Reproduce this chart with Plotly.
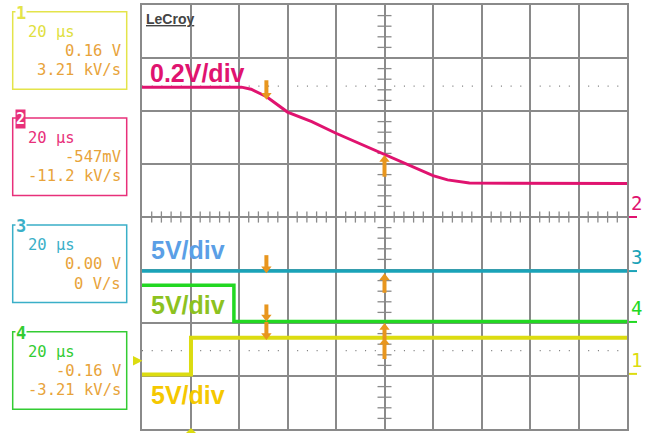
import plotly.graph_objects as go
import numpy as np

# ---------------- data ----------------
t_pink = [-100, -59, -55, -48.6, -40, -30, -20, -10, 0, 10, 20, 26, 35, 100]
v_pink = [2.45, 2.45, 2.41, 2.27, 1.98, 1.80, 1.58, 1.38, 1.17, 0.97, 0.78, 0.70, 0.64, 0.63]

t_cyan = [-100, 100]
v_cyan = [-1.02, -1.02]

t_green = [-100, -62.1, 100]
v_green = [-1.29, -1.97, -1.97]

t_yellow = [-100, -79.8, 100]
v_yellow = [-2.97, -2.28, -2.28]

channels = ["1", "2", "3", "4"]
box_time = ["20 μs", "20 μs", "20 μs", "20 μs"]
box_level = ["0.16 V", "-547mV", "0.00 V", "-0.16 V"]
box_slope = ["3.21 kV/s", "-11.2 kV/s", "0 V/s", "-3.21 kV/s"]
ground_levels = [-2.96, 0.0, -1.02, -1.98]  # ch1..ch4 markers on right

scale_labels = ["0.2V/div", "5V/div", "5V/div", "5V/div"]

# cursor arrows: (time, tail level, tip level)
cursor_t = [-48.7, 0, -48.7, 0, -48.7, -48.7, 0, 0]
cursor_tail = [2.58, 0.76, -0.72, -1.43, -1.65, -1.98, -2.32, -2.68]
cursor_tip = [2.21, 1.17, -1.06, -1.06, -1.97, -2.32, -2.0, -2.28]

# ---------------- styling ----------------
W, H = 649, 433
L, R, T, B = 142, 22, 5, 4
PW, PH = W - L - R, H - T - B

def pxx(px):
    return (px - L) / PW

def pxy(py):
    return (H - B - py) / PH

c_pink = "#E0136F"
c_cyan = "#1AA3B8"
c_green = "#22D822"
c_yellow = "#DCDC10"
c_orange = "#E8961E"
c_val = "#E8A33A"
ch_colors = ["#E4E44A", "#E8307A", "#3AAFC8", "#33CC33"]
ch_txt = ["#E0E040", "#E8307A", "#3AAFC8", "#33CC33"]
grid_c = "#8a8a8a"

fig = go.Figure()

# center-axis minor ticks
tx = [x for x in np.arange(-100, 100.1, 4) if abs(x % 20) > 1e-6 and abs(x % 20 - 20) > 1e-6]
ty = [y for y in np.arange(-4, 4.01, 0.2) if abs(y - round(y)) > 1e-6]
fig.add_trace(go.Scatter(x=tx, y=[0] * len(tx), mode="markers",
                         marker=dict(symbol="line-ns", size=8, line=dict(color=grid_c, width=1.3)),
                         hoverinfo="skip", showlegend=False))
fig.add_trace(go.Scatter(x=[0] * len(ty), y=ty, mode="markers",
                         marker=dict(symbol="line-ew", size=10, line=dict(color=grid_c, width=1.3)),
                         hoverinfo="skip", showlegend=False))

# traces
fig.add_trace(go.Scatter(x=t_pink, y=v_pink, mode="lines", line=dict(color=c_pink, width=3), showlegend=False))
fig.add_trace(go.Scatter(x=t_cyan, y=v_cyan, mode="lines", line=dict(color=c_cyan, width=3.5), showlegend=False))
fig.add_trace(go.Scatter(x=t_green, y=v_green, mode="lines", line=dict(color=c_green, width=3.5, shape="hv"), showlegend=False))
fig.add_trace(go.Scatter(x=t_yellow, y=v_yellow, mode="lines", line=dict(color=c_yellow, width=4, shape="hv"), showlegend=False))

# cursor arrows: shafts + heads
sx, sy = [], []
for t0, a, b in zip(cursor_t, cursor_tail, cursor_tip):
    shorten = 0.08 if b < a else -0.08
    sx += [t0, t0, None]
    sy += [a, b + shorten, None]
fig.add_trace(go.Scatter(x=sx, y=sy, mode="lines", line=dict(color=c_orange, width=4),
                         hoverinfo="skip", showlegend=False))
head_sym = ["triangle-down" if b < a else "triangle-up" for a, b in zip(cursor_tail, cursor_tip)]
head_y = [b + (0.085 if b < a else -0.085) for a, b in zip(cursor_tail, cursor_tip)]
fig.add_trace(go.Scatter(x=cursor_t, y=head_y, mode="markers",
                         marker=dict(symbol=head_sym, size=9, color=c_orange, line=dict(width=0)),
                         hoverinfo="skip", showlegend=False))

shapes = []
# dotted reference lines
for yv in [2.47, -2.52]:
    shapes.append(dict(type="line", xref="x", yref="y", x0=-100, x1=100, y0=yv, y1=yv,
                       line=dict(color="#777777", width=1.3, dash="1px,8.7px"), layer="below"))

# trigger markers (yellow triangles outside grid)
def tri_path(pts):
    return "M " + " L ".join(f"{pxx(x):.5f},{pxy(y):.5f}" for x, y in pts) + " Z"

shapes.append(dict(type="path", xref="paper", yref="paper",
                   path=tri_path([(133, 356), (142.5, 360.7), (133, 365.5)]),
                   fillcolor=c_yellow, line=dict(width=0)))
shapes.append(dict(type="path", xref="paper", yref="paper",
                   path=tri_path([(186, 433), (191, 428), (196, 433)]),
                   fillcolor=c_yellow, line=dict(width=0)))

annotations = []

# scale labels
lab_pos = [(-97.5, 2.72, c_pink), (-97.0, -0.62, "#5B9FE6"), (-97.0, -1.66, "#8DC21F"), (-97.0, -3.36, "#F5C800")]
for (xl, yl, col), txt in zip(lab_pos, scale_labels):
    annotations.append(dict(x=xl, y=yl, xref="x", yref="y", text=txt, showarrow=False,
                            xanchor="left", yanchor="middle",
                            font=dict(family="Liberation Sans, Arial", size=25, color=col, weight="bold")))

# LeCroy logo
annotations.append(dict(x=pxx(144), y=pxy(19), xref="paper", yref="paper", text="<u>LeCroy</u>",
                        showarrow=False, xanchor="left", yanchor="middle",
                        font=dict(family="Liberation Sans, Arial", size=14, color="#444444", weight="bold")))

# left info boxes
box_tops = [11.7, 118, 225, 331.7]
mono = "DejaVu Sans Mono, monospace"
for i, top in enumerate(box_tops):
    bot = top + 77.5
    shapes.append(dict(type="rect", xref="paper", yref="paper",
                       x0=pxx(12.7), x1=pxx(126.7), y0=pxy(bot), y1=pxy(top),
                       line=dict(color=ch_colors[i], width=1.5)))
    annotations.append(dict(x=pxx(26), y=pxy(top + 20), xref="paper", yref="paper", text=box_time[i],
                            showarrow=False, xanchor="left", yanchor="middle",
                            font=dict(family=mono, size=15.5, color=ch_txt[i])))
    annotations.append(dict(x=pxx(123), y=pxy(top + 39), xref="paper", yref="paper", text=box_level[i],
                            showarrow=False, xanchor="right", yanchor="middle",
                            font=dict(family=mono, size=15.5, color=c_val)))
    annotations.append(dict(x=pxx(123), y=pxy(top + 58.5), xref="paper", yref="paper", text=box_slope[i],
                            showarrow=False, xanchor="right", yanchor="middle",
                            font=dict(family=mono, size=15.5, color=c_val)))
    # channel number tag
    if channels[i] == "2":
        annotations.append(dict(x=pxx(20.5), y=pxy(top + 1), xref="paper", yref="paper", text="<b>2</b>",
                                showarrow=False, xanchor="center", yanchor="middle", bgcolor=ch_colors[i],
                                borderpad=0, font=dict(family=mono, size=15, color="white")))
    else:
        annotations.append(dict(x=pxx(20.5), y=pxy(top + 1), xref="paper", yref="paper", text="<b>" + channels[i] + "</b>",
                                showarrow=False, xanchor="center", yanchor="middle", bgcolor="white",
                                borderpad=0, font=dict(family=mono, size=17, color=ch_colors[i])))

# right side channel markers
right_cols = [c_yellow, c_pink, c_cyan, c_green]
for ch, gl, col in zip(channels, ground_levels, right_cols):
    shapes.append(dict(type="line", xref="paper", yref="y", x0=pxx(629), x1=pxx(637), y0=gl, y1=gl,
                       line=dict(color=col, width=2)))
    annotations.append(dict(x=pxx(628.5), y=gl, xref="paper", yref="y", text=ch, showarrow=False,
                            xanchor="left", yanchor="bottom", yshift=1,
                            font=dict(family="DejaVu Sans Mono, monospace", size=19, color=col)))

fig.update_layout(
    width=W, height=H,
    margin=dict(l=L, r=R, t=T, b=B, pad=0),
    paper_bgcolor="white", plot_bgcolor="white",
    showlegend=False,
    shapes=shapes, annotations=annotations,
    xaxis=dict(range=[-100, 100], dtick=20, tick0=-100, showgrid=True, gridcolor=grid_c, gridwidth=1.5,
               showticklabels=False, ticks="", zeroline=True, zerolinecolor=grid_c, zerolinewidth=1.5,
               showline=True, linecolor=grid_c, linewidth=1.5, mirror=True, fixedrange=True),
    yaxis=dict(range=[-4, 4], dtick=1, tick0=-4, showgrid=True, gridcolor=grid_c, gridwidth=1.5,
               showticklabels=False, ticks="", zeroline=True, zerolinecolor=grid_c, zerolinewidth=1.5,
               showline=True, linecolor=grid_c, linewidth=1.5, mirror=True, fixedrange=True),
)

fig.write_html("out.html", config={"displayModeBar": False},
               post_script="document.body.style.margin='0';document.body.style.padding='0';")
